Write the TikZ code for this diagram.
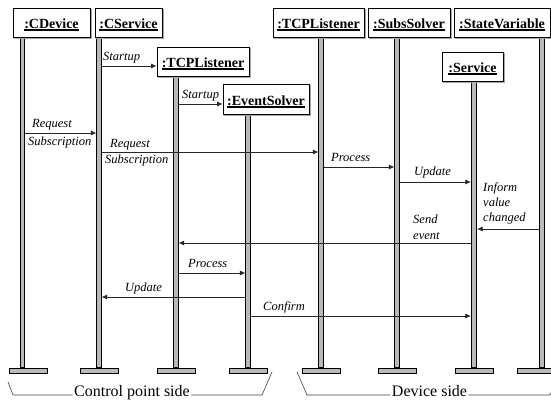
\documentclass[tikz,border=0pt]{standalone}
\usepackage{fontspec}
\setmainfont{Liberation Serif}
\usetikzlibrary{arrows.meta}
% object name with a heavy underline
\newcommand\objtitle[1]{\setbox0\hbox{#1}\rlap{\usebox0}\raisebox{-2.7pt}{\rule{\wd0}{1.6pt}}}
\begin{document}
\begin{tikzpicture}[x=1pt,y=-1pt,
  objbox/.style={draw, line width=0.8pt, fill=white, inner sep=0pt,
    minimum height=29pt, text height=12pt, text depth=0.4pt,
    preaction={draw=gray!70, line width=0.6pt, transform canvas={xshift=1.2pt,yshift=-1.2pt}},
    font=\fontsize{14}{16}\selectfont\bfseries},
  lifeline/.style={rectangle, fill=gray!55, draw=black, line width=0.75pt,
    minimum width=4.5pt, inner sep=0pt, anchor=south},
  foot/.style={rectangle, fill=gray!55, draw=black, line width=0.7pt,
    minimum width=38pt, minimum height=5pt, inner sep=0pt, anchor=north},
  msg/.style={draw=black!85, line width=0.7pt, -{Latex[length=5.5pt,width=5pt]}},
  lbl/.style={anchor=mid west, inner sep=0pt, font=\fontsize{12.5}{14}\selectfont\itshape},
  side/.style={draw=black!75, line width=0.6pt},
  sidelbl/.style={anchor=mid, inner sep=1.5pt, font=\fontsize{16}{18}\selectfont}]

\useasboundingbox (0,0) rectangle (551,403);

% lifelines (drawn first so that the boxes sit on top)
\node[lifeline, minimum height=331pt] (cdevL)  at (22.5,368) {};
\node[lifeline, minimum height=331pt] (csrvL)  at (99,368) {};
\node[lifeline, minimum height=292pt] (tcpaL)  at (176,368) {};
\node[lifeline, minimum height=254pt] (evsL)   at (248,368) {};
\node[lifeline, minimum height=331pt] (tcpbL)  at (321,368) {};
\node[lifeline, minimum height=331pt] (subsL)  at (397,368) {};
\node[lifeline, minimum height=288pt, minimum width=5.5pt] (servL) at (474,368) {};
\node[lifeline, minimum height=331pt] (stateL) at (542,368) {};

% feet of the lifelines
\node[foot] (cdevF)  at (28,368) {};
\node[foot] (csrvF)  at (99,368) {};
\node[foot] (tcpaF)  at (176.5,368) {};
\node[foot] (evsF)   at (248,368) {};
\node[foot] (tcpbF)  at (321.5,368) {};
\node[foot] (subsF)  at (397,368) {};
\node[foot] (servF)  at (474,368) {};
\node[foot] (stateF) at (536,368) {};

% object boxes
\node[objbox, minimum width=77pt] (cdev)  at (51.5,22.5) {\objtitle{:CDevice}};
\node[objbox, minimum width=67pt] (csrv)  at (128.5,22.5) {\objtitle{:CService}};
\node[objbox, minimum width=92pt] (tcpa)  at (203,61.5) {\objtitle{:TCPListener}};
\node[objbox, minimum width=86pt, minimum height=30pt] (evs) at (266,99.5) {\objtitle{:EventSolver}};
\node[objbox, minimum width=91pt] (tcpb)  at (318.5,22.5) {\objtitle{:TCPListener}};
\node[objbox, minimum width=82pt] (subs)  at (409,22.5) {\objtitle{:SubsSolver}};
\node[objbox, minimum width=96pt] (state) at (502,22.5) {\objtitle{:StateVariable}};
\node[objbox, minimum width=61pt] (serv)  at (472.5,66.5) {\objtitle{:Service}};

% messages
\draw[msg] (csrvL.east |- 0,66)  -- (tcpa.west |- 0,66);
\draw[msg] (tcpaL.east |- 0,104) -- (evs.west |- 0,104);
\draw[msg] (cdevL.east |- 0,133) -- (csrvL.west |- 0,133);
\draw[msg] (csrvL.east |- 0,152) -- (tcpbL.west |- 0,152);
\draw[msg] (tcpbL.east |- 0,167) -- (subsL.west |- 0,167);
\draw[msg] (subsL.east |- 0,182) -- (servL.west |- 0,182);
\draw[msg] (stateL.west |- 0,229) -- (servL.east |- 0,229);
\draw[msg] (servL.west |- 0,243) -- (tcpaL.east |- 0,243);
\draw[msg] (tcpaL.east |- 0,273) -- (evsL.west |- 0,273);
\draw[msg] (evsL.west |- 0,297)  -- (csrvL.east |- 0,297);
\draw[msg] (evsL.east |- 0,316)  -- (servL.west |- 0,316);

% message labels
\node[lbl] (m1)  at (103,58)  {Startup};
\node[lbl] (m2)  at (182,96)  {Startup};
\node[lbl] (m3a) at (32,125)  {Request};
\node[lbl] (m3b) at (28,143)  {Subscription};
\node[lbl] (m4a) at (110,145) {Request};
\node[lbl] (m4b) at (105,161) {Subscription};
\node[lbl] (m5)  at (331,159) {Process};
\node[lbl] (m6)  at (414,173) {Update};
\node[lbl] (m7a) at (483,189) {Inform};
\node[lbl] (m7b) at (483,204) {value};
\node[lbl] (m7c) at (483,219) {changed};
\node[lbl] (m8a) at (413,221) {Send};
\node[lbl] (m8b) at (413,237) {event};
\node[lbl] (m9)  at (188,265) {Process};
\node[lbl] (m10) at (125,289) {Update};
\node[lbl] (m11) at (263,308) {Confirm};

% grouping of the two sides
\node[sidelbl] (cps) at (132,394) {Control point side};
\draw[side] (8,382) -- (13,395) -- (cps.west |- 0,395);
\draw[side] (cps.east |- 0,395) -- (262,395) -- (272,372);
\node[sidelbl] (dvs) at (429.5,394) {Device side};
\draw[side] (297,372) -- (307,395) -- (dvs.west |- 0,395);
\draw[side] (dvs.east |- 0,395) -- (550,395) -- (555,383);
\end{tikzpicture}
\end{document}
